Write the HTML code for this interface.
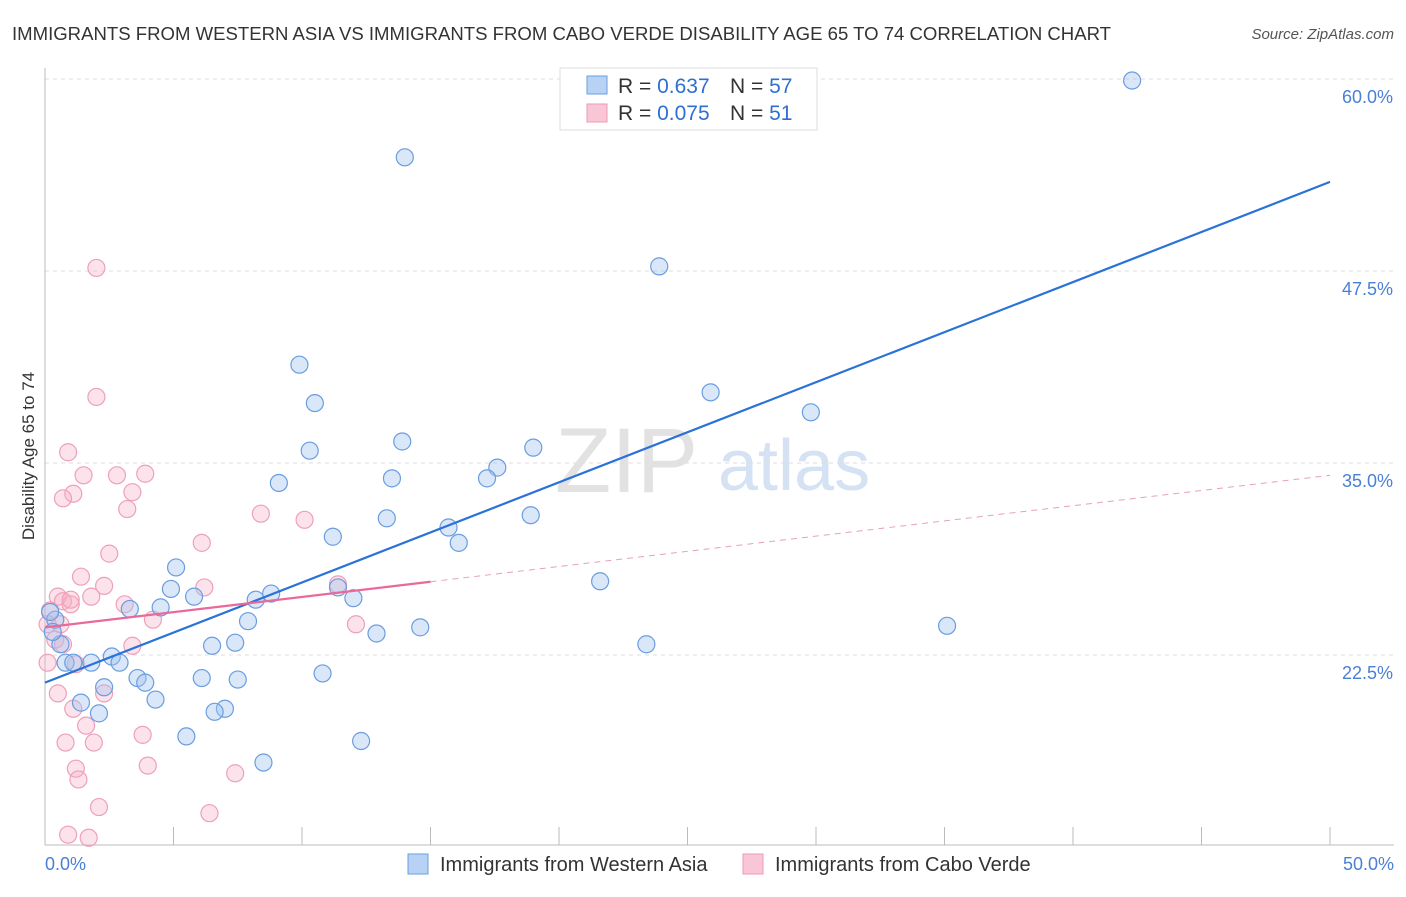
<!DOCTYPE html>
<html><head><meta charset="utf-8"><style>
body{margin:0;background:#fff;font-family:"Liberation Sans",sans-serif;}
svg text{font-family:"Liberation Sans",sans-serif;}
</style></head><body>
<svg width="1406" height="892" xmlns="http://www.w3.org/2000/svg">
<text x="12" y="40" font-size="18" fill="#333" textLength="1099" lengthAdjust="spacingAndGlyphs">IMMIGRANTS FROM WESTERN ASIA VS IMMIGRANTS FROM CABO VERDE DISABILITY AGE 65 TO 74 CORRELATION CHART</text>
<text x="1394" y="39" font-size="15" fill="#555" font-style="italic" text-anchor="end">Source: ZipAtlas.com</text>
<text x="555" y="492" font-size="92" fill="#e2e2e2" font-family="Liberation Serif">ZIP</text>
<text x="718" y="490" font-size="72" fill="#d4e2f4">atlas</text>
<g id="grid"></g><g id="axes"></g><g id="pts"></g><g id="lines"></g>
<text transform="translate(34,456) rotate(-90)" font-size="17" fill="#333" text-anchor="middle">Disability Age 65 to 74</text>
<text x="45" y="870" font-size="18" fill="#4a7fd6">0.0%</text>
<text x="1394" y="870" font-size="18" fill="#4a7fd6" text-anchor="end">50.0%</text>
<g>
<rect x="560" y="68" width="257" height="62" fill="#fff" stroke="#ddd"/>
<rect x="587" y="76" width="20" height="18" fill="#b8d2f5" stroke="#6a9de0"/>
<rect x="587" y="104" width="20" height="18" fill="#f9c6d6" stroke="#ee9ab5"/>
<text x="618" y="93" font-size="21" fill="#333">R = <tspan fill="#2f6fd1">0.637</tspan><tspan x="730">N = </tspan><tspan fill="#2f6fd1">57</tspan></text>
<text x="618" y="120" font-size="21" fill="#333">R = <tspan fill="#2f6fd1">0.075</tspan><tspan x="730">N = </tspan><tspan fill="#2f6fd1"> 51</tspan></text>
</g>
<g>
<rect x="408" y="854" width="20" height="20" fill="#b8d2f5" stroke="#6a9de0"/>
<text x="440" y="871" font-size="20" fill="#333">Immigrants from Western Asia</text>
<rect x="743" y="854" width="20" height="20" fill="#f9c6d6" stroke="#ee9ab5"/>
<text x="775" y="871" font-size="20" fill="#333">Immigrants from Cabo Verde</text>
</g>
</svg>
<script>
const yTicks=[22.5,35.0,47.5,60.0];
const xTicks=[0,5,10,15,20,25,30,35,40,45,50];
const blueX=[42.3,14.0,23.9,9.9,25.9,10.5,29.8,13.9,10.3,19.0,17.6,17.2,13.5,9.1,18.9,13.3,15.7,11.2,16.1,5.1,21.6,4.9,5.8,11.4,8.8,8.2,12.0,4.5,3.3,7.9,0.4,12.9,14.6,35.1,23.4,6.5,7.4,0.6,2.6,1.8,2.9,0.8,1.1,10.8,3.6,3.9,2.3,6.1,7.5,4.3,1.4,7.0,6.6,2.1,5.5,12.3,8.5,0.2,0.3];
const blueY=[59.9,54.9,47.8,41.4,39.6,38.9,38.3,36.4,35.8,36.0,34.7,34.0,34.0,33.7,31.6,31.4,30.8,30.2,29.8,28.2,27.3,26.8,26.3,26.9,26.5,26.1,26.2,25.6,25.5,24.7,24.8,23.9,24.3,24.4,23.2,23.1,23.3,23.2,22.4,22.0,22.0,22.0,22.0,21.3,21.0,20.7,20.4,21.0,20.9,19.6,19.4,19.0,18.8,18.7,17.2,16.9,15.5,25.3,24.0];
const pinkX=[2.0,2.0,0.9,1.5,2.8,3.9,1.1,0.7,3.4,3.2,8.4,10.1,2.5,6.1,1.4,2.3,6.2,1.8,0.5,0.7,1.0,3.1,4.2,11.4,12.1,0.2,0.1,0.4,0.7,3.4,1.2,0.5,2.3,1.1,1.6,3.8,0.8,1.9,1.2,1.3,4.0,7.4,2.1,6.4,0.9,1.7,0.1,0.6,1.0];
const pinkY=[47.7,39.3,35.7,34.2,34.2,34.3,33.0,32.7,33.1,32.0,31.7,31.3,29.1,29.8,27.6,27.0,26.9,26.3,26.3,26.0,25.8,25.8,24.8,27.1,24.5,25.4,24.5,23.5,23.2,23.1,21.9,20.0,20.0,19.0,17.9,17.3,16.8,16.8,15.1,14.4,15.3,14.8,12.6,12.2,10.8,10.6,22.0,24.5,26.1];
const blueTrend=[20.7,53.3];
const pinkTrend=[24.3,34.2];
const pinkSolidEnd=15;
const X=v=>45+v*(1285/50);
const Y=v=>655-(v-22.5)*(192/12.5);
const NS='http://www.w3.org/2000/svg';
function mk(t,a,p){const e=document.createElementNS(NS,t);for(const k in a)e.setAttribute(k,a[k]);p.appendChild(e);return e;}
const grid=document.getElementById('grid'),axes=document.getElementById('axes'),pts=document.getElementById('pts'),lines=document.getElementById('lines');
yTicks.forEach(t=>{const l=mk('line',{x1:45,x2:1394,y1:Y(t),y2:Y(t),stroke:'#ddd','stroke-dasharray':'4,4'},grid);


const tx=mk('text',{x:1393,y:Y(t)+24,'font-size':18,fill:'#4a7fd6','text-anchor':'end'},grid);tx.textContent=t.toFixed(1)+'%';

});
const ax=mk('line',{x1:45,x2:1394,y1:845,y2:845,stroke:'#bbb'},axes);


const ay=mk('line',{x1:45,x2:45,y1:68,y2:845,stroke:'#bbb'},axes);


xTicks.forEach(t=>{const l=mk('line',{x1:X(t),x2:X(t),y1:827,y2:845,stroke:'#bbb'},axes);

});
pinkX.forEach((v,i)=>{const c=mk('circle',{cx:X(v),cy:Y(pinkY[i]),r:8.5,fill:'rgba(246,176,198,0.35)',stroke:'#eea0b9','stroke-width':1.2},pts);

});
blueX.forEach((v,i)=>{const c=mk('circle',{cx:X(v),cy:Y(blueY[i]),r:8.5,fill:'rgba(160,196,240,0.4)',stroke:'#6a9de0','stroke-width':1.2},pts);

});
const bl=mk('line',{x1:X(0),y1:Y(blueTrend[0]),x2:X(50),y2:Y(blueTrend[1]),stroke:'#2a72d8','stroke-width':2.2},lines);


const pe=pinkTrend[0]+(pinkTrend[1]-pinkTrend[0])*pinkSolidEnd/50;
const pl=mk('line',{x1:X(0),y1:Y(pinkTrend[0]),x2:X(pinkSolidEnd),y2:Y(pe),stroke:'#e8699a','stroke-width':2.2},lines);


const pd=mk('line',{x1:X(pinkSolidEnd),y1:Y(pe),x2:X(50),y2:Y(pinkTrend[1]),stroke:'#e8a0b8','stroke-width':1,'stroke-dasharray':'6,5'},lines);


</script>
</body></html>
